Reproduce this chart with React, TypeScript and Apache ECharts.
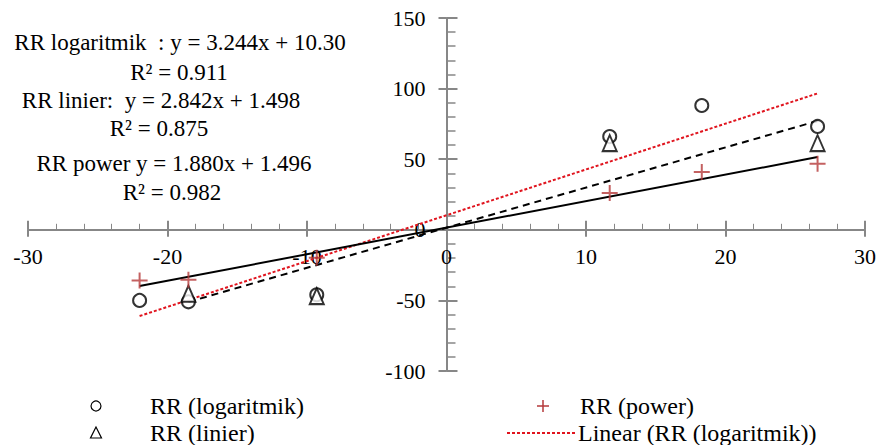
import React, { useEffect, useRef } from "react";
import * as echarts from "echarts";

// ---- data ----
const logX = [-22, -18.5, -9.3, 11.7, 18.3, 26.6];
const logY = [-50, -51, -46, 66, 88, 73.2];
const linX = [-18.5, -9.3, 11.7, 26.6];
const linY = [-45.3, -47, 61.4, 61.4];
const powX = [-22, -18.5, -9.3, 11.7, 18.3, 26.6];
const powY = [-35.9, -35.4, -19.8, 26, 40.9, 46.7];

// trend line end points (from the printed equations)
const trendLogX = [-22, 26.6];
const trendLogY = [-61.07, 96.59];
const trendLinX = [-18.5, 26.6];
const trendLinY = [-51.08, 77.1];
const trendPowX = [-22, 26.6];
const trendPowY = [-39.86, 51.5];

const equationLines = [
  "RR logaritmik  : y = 3.244x + 10.30",
  "R² = 0.911",
  "RR linier:  y = 2.842x + 1.498",
  "R² = 0.875",
  "RR power y = 1.880x + 1.496",
  "R² = 0.982",
];
const legendNames = ["RR (logaritmik)", "RR (linier)", "RR (power)", "Linear (RR (logaritmik))"];

const zip = (xs: number[], ys: number[]) => xs.map((x, i) => [x, ys[i]]);

const FONT = "Liberation Serif";
const AXIS_GRAY = "#878787";
const RED_PLUS = "#b5393a";
const RED_LINE = "#e0141e";

const GRID_L = 28;
const GRID_R = 13;
const GRID_T = 18;
const GRID_B = 74;
const W = 878;
const H = 445;

export default function App() {
  const ref = useRef<HTMLDivElement>(null);
  useEffect(() => {
    document.body.style.margin = "0";
    const chart = echarts.init(ref.current!, undefined, { renderer: "svg" });
    const gridW = W - GRID_L - GRID_R;
    const gridH = H - GRID_T - GRID_B;
    const zeroX = GRID_L + (gridW * 30) / 60;
    const zeroY = GRID_T + (gridH * 150) / 250;
    const xLabelOffset = GRID_T + gridH - zeroY; // labels are laid at grid bottom by default
    const yLabelOffset = zeroX - GRID_L;

    const xBase = {
      type: "value" as const,
      min: -30,
      max: 30,
      interval: 10,
      splitLine: { show: false },
    };
    const yBase = {
      type: "value" as const,
      min: -100,
      max: 150,
      interval: 50,
      splitLine: { show: false },
    };
    const eqPos = [
      [180, 42],
      [179, 72],
      [161, 100],
      [159, 128],
      [174, 163],
      [172, 192],
    ];
    const graphic: any[] = equationLines.map((t, i) => ({
      type: "text",
      x: eqPos[i][0],
      y: eqPos[i][1],
      style: {
        text: t,
        fontFamily: FONT,
        fontSize: 23,
        fill: "#000",
        textAlign: "center",
        textVerticalAlign: "middle",
      },
    }));
    // legend
    const legY1 = 406;
    const legY2 = 433;
    graphic.push(
      { type: "circle", shape: { cx: 96, cy: legY1, r: 5 }, style: { fill: "none", stroke: "#000", lineWidth: 1.2 } },
      { type: "polygon", shape: { points: [[96, legY2 - 6], [90.5, legY2 + 5], [101.5, legY2 + 5]] }, style: { fill: "none", stroke: "#000", lineWidth: 1.2 } },
      { type: "line", shape: { x1: 537, y1: legY1, x2: 549, y2: legY1 }, style: { stroke: RED_PLUS, lineWidth: 1.5 } },
      { type: "line", shape: { x1: 543, y1: legY1 - 6, x2: 543, y2: legY1 + 6 }, style: { stroke: RED_PLUS, lineWidth: 1.5 } },
      { type: "line", shape: { x1: 507, y1: legY2, x2: 575, y2: legY2 }, style: { stroke: RED_LINE, lineWidth: 2, lineDash: [3, 2] } }
    );
    const legText = [
      [150, legY1, legendNames[0]],
      [150, legY2, legendNames[1]],
      [580, legY1, legendNames[2]],
      [578, legY2, legendNames[3]],
    ];
    legText.forEach(([x, y, t]) =>
      graphic.push({
        type: "text",
        x,
        y,
        style: { text: t, fontFamily: FONT, fontSize: 24, fill: "#000", textAlign: "left", textVerticalAlign: "middle" },
      })
    );

    chart.setOption({
      animation: false,
      backgroundColor: "#fff",
      textStyle: { fontFamily: FONT },
      grid: {
        left: GRID_L,
        right: GRID_R,
        top: GRID_T,
        bottom: GRID_B,
        containLabel: false,
        outerBoundsMode: "none",
      },
      xAxis: [
        {
          ...xBase,
          position: "bottom",
          axisLine: { onZero: true, onZeroAxisIndex: 0, lineStyle: { color: AXIS_GRAY, width: 2 } },
          axisTick: { show: true, inside: true, length: 9, lineStyle: { color: AXIS_GRAY, width: 2 } },
          minorTick: { show: true, splitNumber: 5, length: 6, lineStyle: { color: AXIS_GRAY, width: 1 } },
          axisLabel: { show: true, margin: 16 - xLabelOffset, color: "#000", fontFamily: FONT, fontSize: 22 },
        },
        {
          ...xBase,
          position: "bottom",
          axisLine: { show: false, onZero: true, onZeroAxisIndex: 0 },
          axisTick: { show: true, inside: false, length: 7, lineStyle: { color: AXIS_GRAY, width: 2 } },
          axisLabel: { show: false },
        },
      ],
      yAxis: [
        {
          ...yBase,
          position: "left",
          axisLine: { onZero: true, onZeroAxisIndex: 0, lineStyle: { color: AXIS_GRAY, width: 2 } },
          axisTick: { show: true, inside: true, length: 11, lineStyle: { color: AXIS_GRAY, width: 2 } },
          minorTick: { show: true, splitNumber: 5, length: 9, lineStyle: { color: AXIS_GRAY, width: 1.5 } },
          axisLabel: { show: true, margin: 21 - yLabelOffset, color: "#000", fontFamily: FONT, fontSize: 22 },
        },
        {
          ...yBase,
          position: "left",
          axisLine: { show: false, onZero: true, onZeroAxisIndex: 0 },
          axisTick: { show: true, inside: false, length: 8, lineStyle: { color: AXIS_GRAY, width: 2 } },
          axisLabel: { show: false },
        },
      ],
      series: [
        {
          name: legendNames[3],
          type: "line",
          data: zip(trendLogX, trendLogY),
          symbol: "none",
          lineStyle: { color: RED_LINE, width: 2, type: [3, 2] },
          z: 3,
        },
        {
          name: "Linear (RR (linier))",
          type: "line",
          data: zip(trendLinX, trendLinY),
          symbol: "none",
          lineStyle: { color: "#000", width: 2, type: [7, 5] },
          z: 3,
        },
        {
          name: "Linear (RR (power))",
          type: "line",
          data: zip(trendPowX, trendPowY),
          symbol: "none",
          lineStyle: { color: "#000", width: 2 },
          z: 3,
        },
        {
          name: legendNames[0],
          type: "scatter",
          data: zip(logX, logY),
          symbol: "emptyCircle",
          symbolSize: 13,
          itemStyle: { color: "#000", borderColor: "#000", borderWidth: 1.5 },
          z: 4,
        },
        {
          name: legendNames[1],
          type: "scatter",
          data: zip(linX, linY),
          symbol: "emptyTriangle",
          symbolSize: [14, 16],
          itemStyle: { color: "#000", borderColor: "#000", borderWidth: 1.5 },
          z: 4,
        },
        {
          name: legendNames[2],
          type: "scatter",
          data: zip(powX, powY),
          symbol: "path://M0,5L10,5M5,0L5,10",
          symbolSize: 16,
          itemStyle: { color: "none", borderColor: RED_PLUS, borderWidth: 2 },
          z: 4,
        },
      ],
      graphic,
    });
    return () => chart.dispose();
  }, []);
  return <div ref={ref} style={{ width: W, height: H }} />;
}
